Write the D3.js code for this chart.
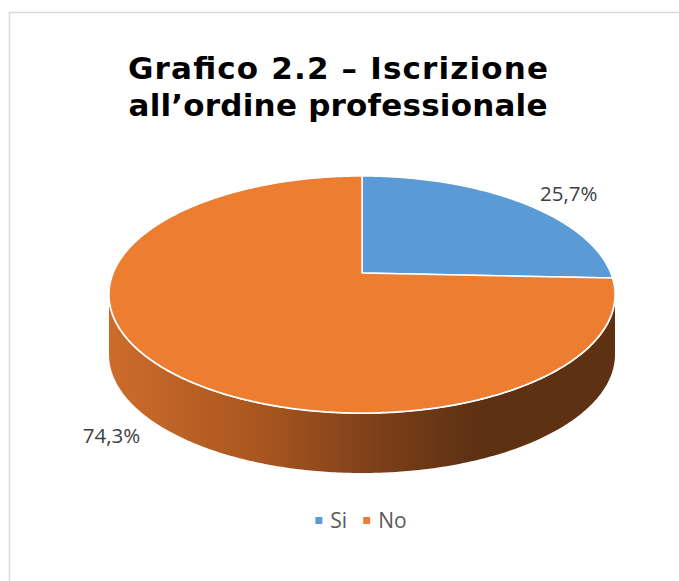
<!DOCTYPE html>
<html>
  <head>
    <meta charset="utf-8" />
    <title>Grafico 2.2</title>
    <script src="https://d3js.org/d3.v7.min.js"></script>
    <style>
      body { margin: 0; background: #fff; }
      .title { font-family: "DejaVu Sans", Verdana, sans-serif; font-weight: bold; fill: #000; }
      .lbl { font-family: "Open Sans", sans-serif; fill: #404040; }
      .legend text { font-family: "Open Sans", sans-serif; fill: #595959; }
    </style>
  </head>
  <body>
    <svg id="chart" width="679" height="581"></svg>
    <script>
      // data
      const categories = ["Si", "No"];
      const values = [25.7, 74.3];
      const valueLabels = ["25,7%", "74,3%"];
      const colors = ["#5B9BD5", "#ED7D31"];
      const titleLines = ["Grafico 2.2 \u2013 Iscrizione", "all\u2019ordine professionale"];

      const width = 679, height = 581;
      const svg = d3.select("#chart");

      // frame (top and left edges only visible, like the cropped original)
      svg.append("rect")
        .attr("x", 9.5).attr("y", 12.5)
        .attr("width", 720).attr("height", 620)
        .attr("fill", "none")
        .attr("stroke", "#d9d9d9")
        .attr("stroke-width", 1.5);

      // title, stretched a bit to match the wider Verdana look
      const titleWidths = [420, 419];
      svg.append("g")
        .selectAll("text")
        .data(titleLines)
        .join("text")
          .attr("class", "title")
          .attr("font-size", 31)
          .attr("x", (d, i) => 338 - titleWidths[i] / 2)
          .attr("y", (d, i) => 79 + i * 37)
          .attr("textLength", (d, i) => titleWidths[i])
          .attr("lengthAdjust", "spacing")
          .text(d => d);

      // 3D pie: tilted disc with a little perspective
      const cx = 362, cy = 273;       // apex of the pie
      const A = 248.8, B = 114.6;     // horizontal / vertical radii
      const k = -0.1814;              // perspective factor
      const depth = 60;               // wall height

      function proj(a, r = 1, dy = 0) {
        const u = r * Math.sin(a), v = -r * Math.cos(a);
        const w = 1 + k * v;
        return [cx + A * u / w, cy + B * v / w + dy];
      }

      function arcPoints(a0, a1, dy = 0) {
        const n = Math.max(2, Math.ceil(Math.abs(a1 - a0) / 0.01));
        return d3.range(n + 1).map(i => proj(a0 + (a1 - a0) * i / n, 1, dy));
      }

      const pie = d3.pie().sort(null).value(d => d)(values);
      const line = d3.line();

      // visible front wall range
      const frontStart = Math.PI / 2 + Math.asin(-k);
      const frontEnd = 3 * Math.PI / 2 - Math.asin(-k);

      // horizontal extent for the wall gradient
      const xs = arcPoints(0, 2 * Math.PI).map(p => p[0]);
      const xMin = d3.min(xs), xMax = d3.max(xs);

      const defs = svg.append("defs");
      const grad = defs.append("linearGradient")
        .attr("id", "wall")
        .attr("gradientUnits", "userSpaceOnUse")
        .attr("x1", xMin).attr("x2", xMax)
        .attr("y1", 0).attr("y2", 0);
      [["0%", "#cd6c2b"], ["30%", "#a8561f"], ["55%", "#7a3d18"], ["72%", "#5e3113"], ["100%", "#5e3113"]]
        .forEach(s => grad.append("stop").attr("offset", s[0]).attr("stop-color", s[1]));

      // walls
      pie.forEach(d => {
        const a0 = Math.max(d.startAngle, frontStart);
        const a1 = Math.min(d.endAngle, frontEnd);
        if (a1 <= a0) return;
        const top = arcPoints(a0, a1);
        const bottom = arcPoints(a1, a0, depth);
        svg.append("path")
          .attr("d", line(top.concat(bottom)) + "Z")
          .attr("fill", d.index === 1 ? "url(#wall)" : d3.color(colors[d.index]).darker(1.5))
          .attr("stroke", "none");
        svg.append("path")
          .attr("d", line(top))
          .attr("fill", "none")
          .attr("stroke", "#fff")
          .attr("stroke-width", 2);
      });

      // top faces
      svg.append("g")
        .selectAll("path")
        .data(pie)
        .join("path")
          .attr("d", d => line([[cx, cy]].concat(arcPoints(d.startAngle, d.endAngle))) + "Z")
          .attr("fill", (d, i) => colors[i])
          .attr("stroke", "#fff")
          .attr("stroke-width", 1.5)
          .attr("stroke-linejoin", "round");

      // value labels, pushed outside the rim
      svg.append("g")
        .selectAll("text")
        .data(pie)
        .join("text")
          .attr("class", "lbl")
          .attr("font-size", 20.5)
          .attr("text-anchor", "middle")
          .attr("dominant-baseline", "central")
          .attr("x", d => {
            const p = proj((d.startAngle + d.endAngle) / 2);
            return p[0] + (p[0] > cx ? 47 : -45);
          })
          .attr("y", d => {
            const m = (d.startAngle + d.endAngle) / 2;
            const p = proj(m);
            return cy + (p[1] - cy) * 1.13 + (-Math.cos(m) > 0 ? depth : 0);
          })
          .text((d, i) => valueLabels[i]);

      // legend
      const legend = svg.append("g").attr("class", "legend");
      const items = legend.selectAll("g")
        .data(categories)
        .join("g");
      items.append("rect")
        .attr("width", 7).attr("height", 7)
        .attr("y", -4)
        .attr("fill", (d, i) => colors[i]);
      items.append("text")
        .attr("x", 15)
        .attr("dy", "0.35em")
        .attr("font-size", 21)
        .text(d => d);
      let off = 0;
      items.each(function () {
        d3.select(this).attr("transform", `translate(${off},0)`);
        off += this.getBBox().width + 16;
      });
      const total = off - 16;
      legend.attr("transform", `translate(${361 - total / 2},521)`);
    </script>
  </body>
</html>
